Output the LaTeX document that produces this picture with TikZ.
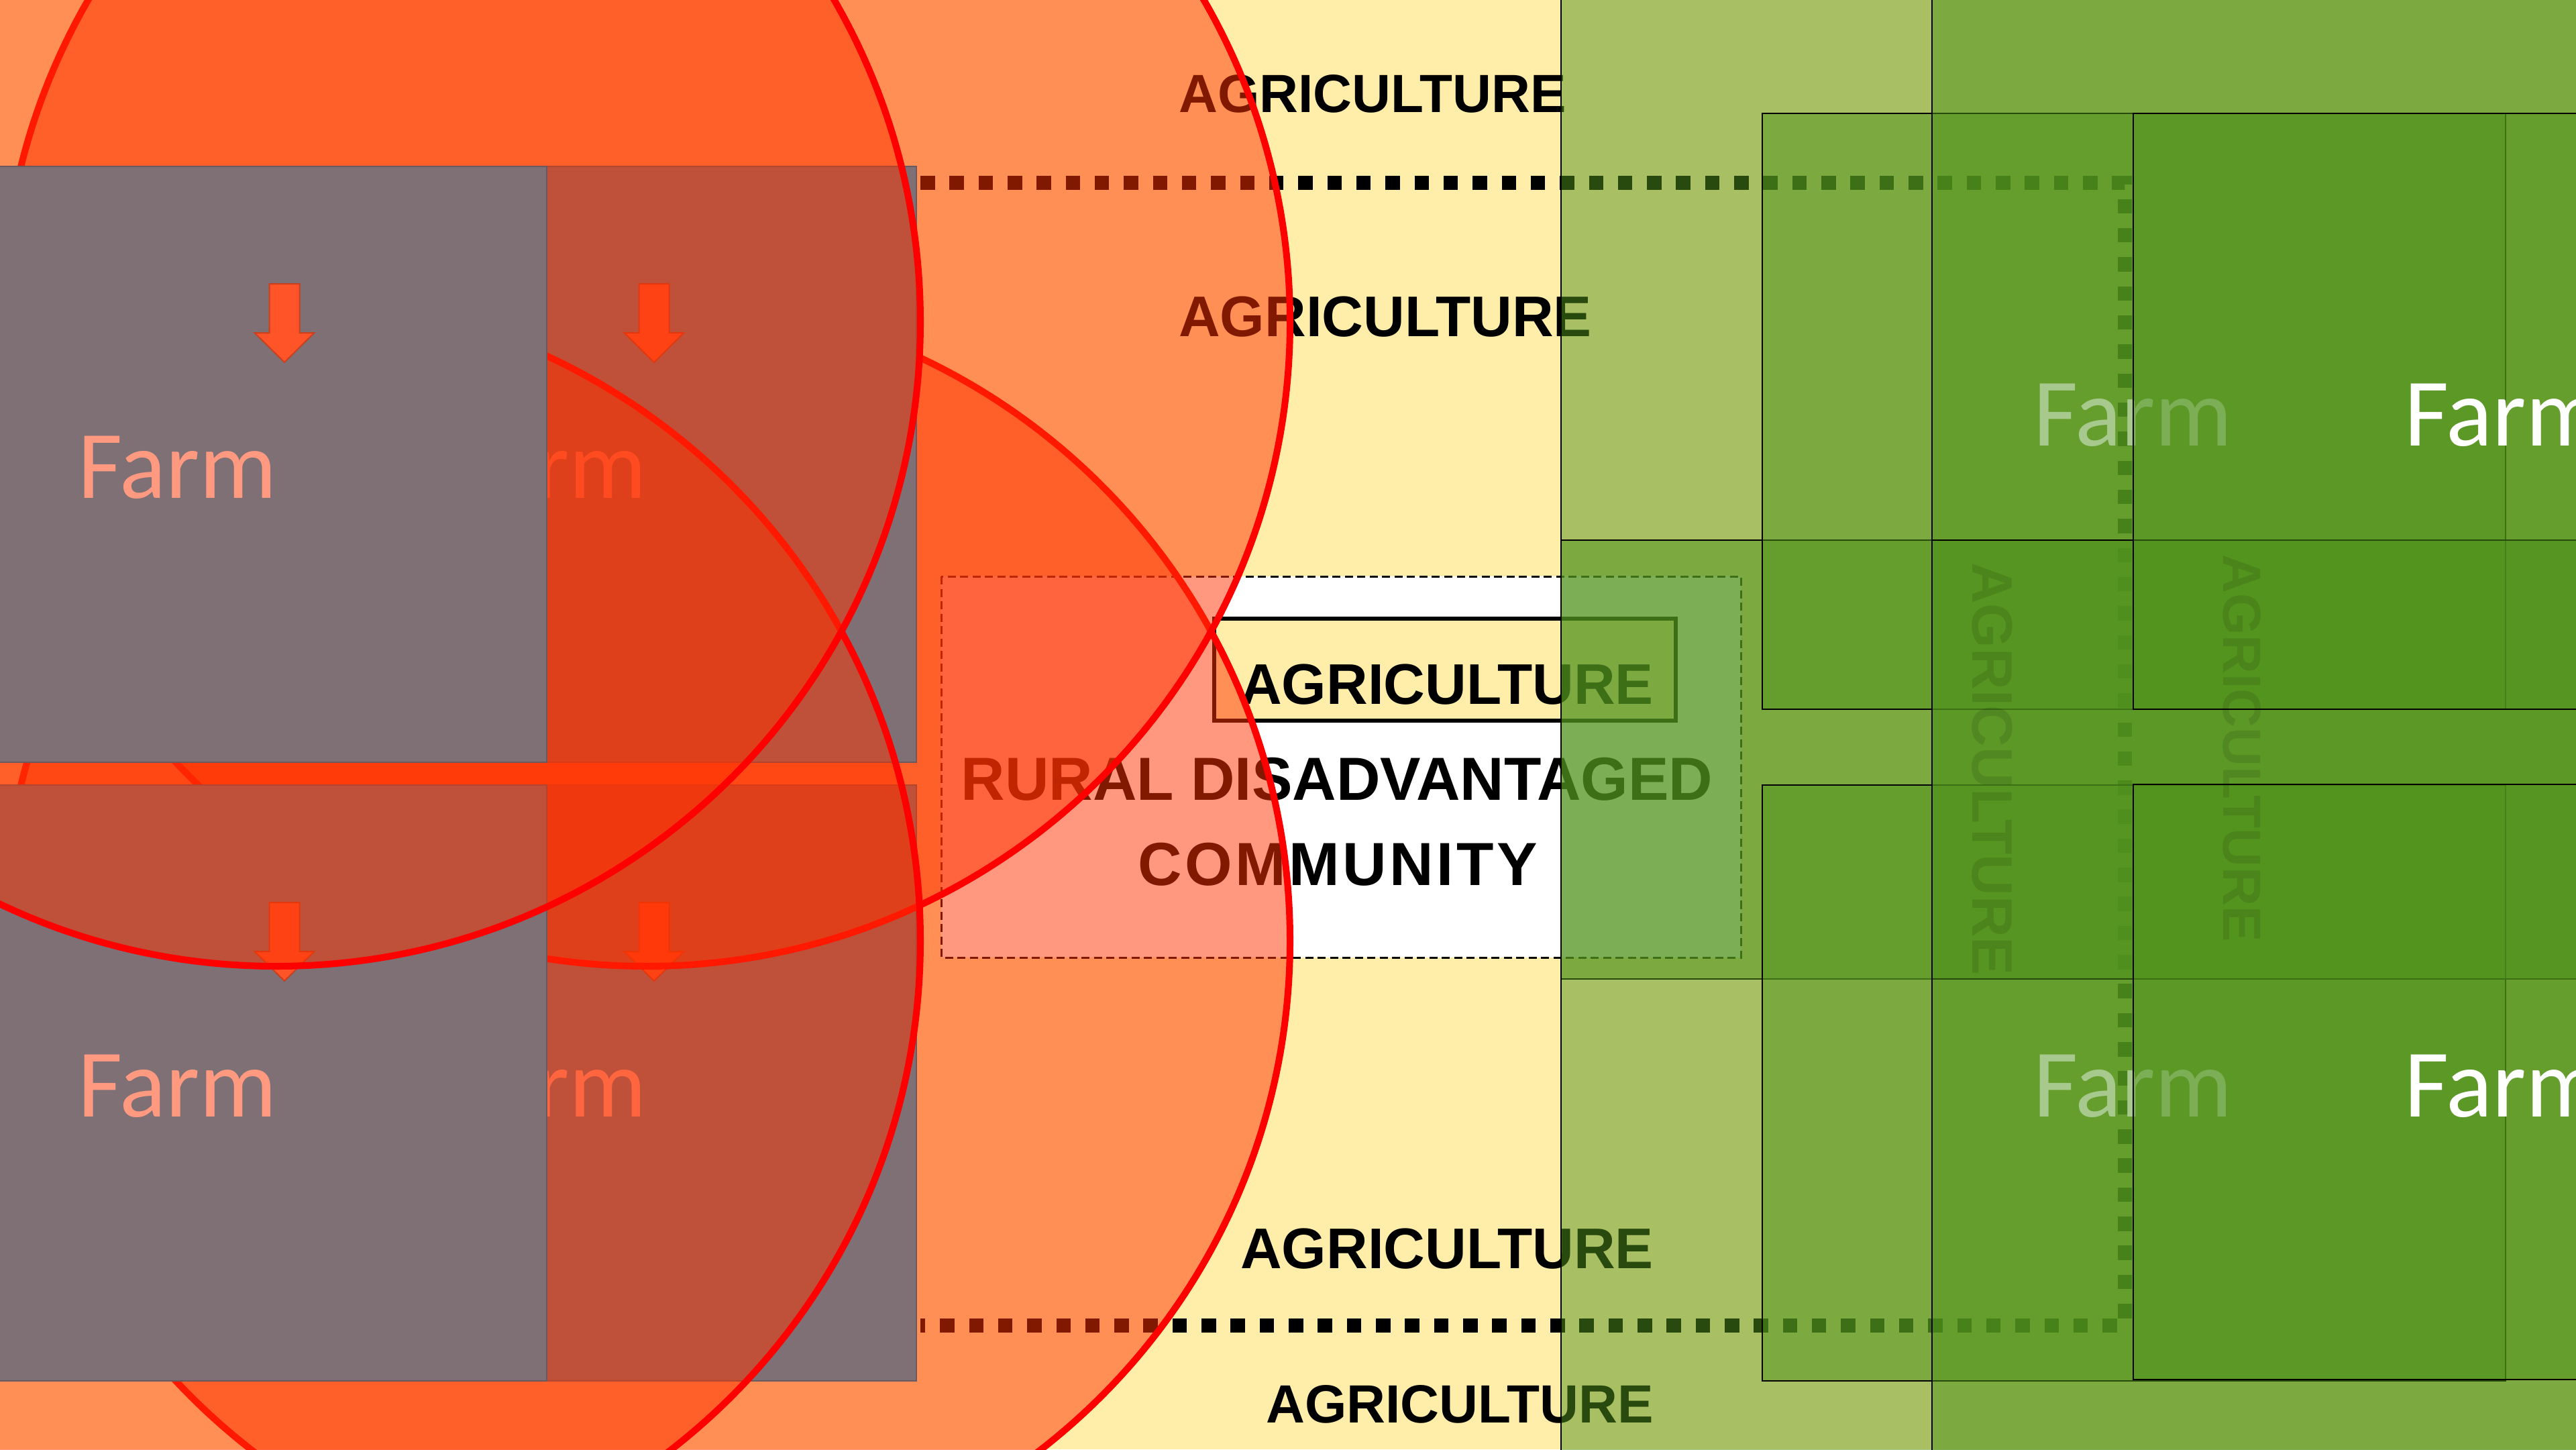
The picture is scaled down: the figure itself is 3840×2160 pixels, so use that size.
\documentclass[tikz,border=0pt]{standalone}
\usepackage{fontspec}
\setmainfont{Liberation Sans}
\newfontfamily\farmfont{Carlito}

\definecolor{paper}{RGB}{255,237,170}
\definecolor{haze}{RGB}{255,50,0}
\definecolor{ring}{RGB}{255,0,0}
\definecolor{plot}{RGB}{127,112,118}
\definecolor{plotedge}{RGB}{104,90,96}
\definecolor{arrowfill}{RGB}{255,83,40}
\definecolor{arrowedge}{RGB}{200,64,30}
\definecolor{farmtxt}{RGB}{255,154,128}
\definecolor{field}{RGB}{82,148,30}

\begin{document}
\begin{tikzpicture}[x=0.01cm,y=-0.01cm,
  every node/.style={inner sep=0pt,outer sep=0pt},
  buffer/.style={fill=haze,fill opacity=0.5,draw=ring,line width=0.1cm},
  plotbox/.style={fill=plot,draw=plotedge,line width=0.02cm},
  downarrow/.style={fill=arrowfill,draw=arrowedge,line width=0.02cm,line join=miter},
  farmlabel/.style={font=\farmfont\fontsize{41}{45}\selectfont,anchor=base west},
  fieldzone/.style={fill=field,fill opacity=0.5,draw=black,line width=0.02cm},
  agbig/.style={font=\bfseries\fontsize{24.3}{28}\selectfont,anchor=base},
  agsmall/.style={font=\bfseries\fontsize{22.8}{26}\selectfont,anchor=base},
  agcommunity/.style={font=\bfseries\fontsize{25.8}{30}\selectfont,anchor=base},
  dashframe/.style={fill=white,draw=black,line width=0.03cm,dash pattern=on 0.12cm off 0.065cm},
  labelframe/.style={fill=paper,draw=black,line width=0.065cm},
  dotline/.style={line width=0.21cm,dash pattern=on 0.215cm off 0.218cm},
  faint/.style={text=black,text opacity=0.1}]

\useasboundingbox (0,0) rectangle (3840,2160);
\clip (0,0) rectangle (3840,2160);

% ground
\fill[paper] (0,0) rectangle (3840,2160);

% community frame and labels
\path[dashframe] (1403,859) rectangle (2595,1427);
\path[labelframe] (1810,922) rectangle (2498,1074);
\node[agbig] (agbox) at (2157,1049) {AGRICULTURE};
\node[agcommunity] (rural) at (1993,1192) {RURAL DISADVANTAGED};
\node[agcommunity] (community) at (1994,1319) {\addfontfeatures{LetterSpace=5}COMMUNITY};

\node[agsmall] (agtop) at (2046,167) {AGRICULTURE};
\node[agbig] (agupper) at (2065,501) {AGRICULTURE};
\node[agbig] (aglower) at (2157,1890) {AGRICULTURE};
\node[agsmall] (agbottom) at (2176,2120) {AGRICULTURE};

% dotted boundary
\draw[dotline] (1372,272) -- (3167,272) -- (3167,1975) -- (1372,1975);

% farms with circular buffers
\foreach \n/\dx/\dy in {4/551/922, 2/551/0, 3/0/922, 1/0/0}{
  \begin{scope}[shift={(\dx,\dy)}]
    \path[buffer] (412,480) circle[radius=960];
    \path[plotbox] (-293,248) rectangle (815,1136);
    \path[downarrow] (401.5,423) -- (446.5,423) -- (446.5,496) -- (468.5,496)
      -- (424,540) -- (379.5,496) -- (401.5,496) -- cycle;
    \node[farmlabel,text=farmtxt] (farmL\n) at (116,742) {Farm};
  \end{scope}
}

% farms with rectangular zones
\path[fieldzone] (2327,-20) rectangle (3900,1459);
\path[fieldzone] (2327,805) rectangle (3900,2200);
\path[fieldzone] (2627,169) rectangle (3735,1057);
\node[farmlabel,text=white] (farmR1) at (3031,664) {Farm};
\path[fieldzone] (2627,1170) rectangle (3735,2058);
\node[farmlabel,text=white] (farmR3) at (3031,1664) {Farm};
\path[fieldzone] (2880,-20) rectangle (3900,1459);
\path[fieldzone] (2880,805) rectangle (3900,2200);
\path[fieldzone] (3180,169) rectangle (4288,1057);
\node[farmlabel,text=white] (farmR2) at (3584,664) {Farm};
\path[fieldzone] (3180,1169) rectangle (4288,2056);
\node[farmlabel,text=white] (farmR4) at (3584,1664) {Farm};

% faint vertical labels
\node[agbig,faint,rotate=-90] (agvert1) at (2940,1146) {AGRICULTURE};
\node[agsmall,faint,rotate=-90] (agvert2) at (3314,1115) {AGRICULTURE};

\end{tikzpicture}
\end{document}
